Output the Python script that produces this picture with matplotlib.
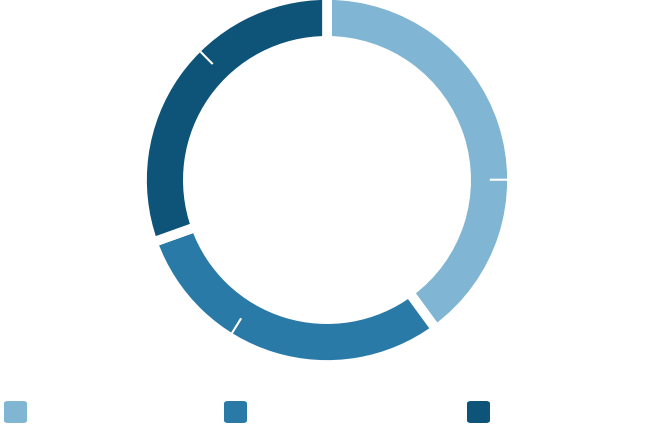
import numpy as np
import matplotlib.pyplot as plt
from matplotlib.patches import FancyBboxPatch

# three groups, each split in two parts (share of the whole, %)
groups = ['A', 'B', 'C']
part_a = [25.0, 18.9, 18.1]
part_b = [15.0, 10.7, 12.4]
colors = ['#80b5d4', '#2a7aa8', '#0e5479']

totals = [a + b for a, b in zip(part_a, part_b)]

fig = plt.figure(figsize=(6.58, 4.25), dpi=100)

# ring axes, centre at about (327, 180) px from the top left
R_px = 185
ax = fig.add_axes([(327 - R_px) / 658, (425 - 180 - R_px) / 425,
                   2 * R_px / 658, 2 * R_px / 425])
wedges, _ = ax.pie(totals, colors=colors, startangle=90, counterclock=False,
                   radius=1.0,
                   wedgeprops=dict(width=0.248, edgecolor='white', linewidth=7))
ax.set_xlim(-1, 1)
ax.set_ylim(-1, 1)
ax.set_aspect('equal')
ax.axis('off')

# thin white ticks where each group splits into its two parts
start = 0.0
for a, t in zip(part_a, totals):
    ang = np.deg2rad(90 - (start + a) * 360 / sum(totals))
    r = np.array([0.88, 1.0])
    ax.plot(r * np.cos(ang), r * np.sin(ang), color='white', lw=1.5,
            solid_capstyle='butt', clip_on=False)
    start += t

# legend swatches along the bottom
swatch_x = [4, 224, 467]
for x, c in zip(swatch_x, colors):
    box = FancyBboxPatch((x / 658, 2 / 425), 23 / 658, 22 / 425,
                         boxstyle='round,pad=0,rounding_size=0.006',
                         transform=fig.transFigure, facecolor=c,
                         edgecolor='none')
    fig.add_artist(box)

fig.savefig('out.png', dpi=100)
